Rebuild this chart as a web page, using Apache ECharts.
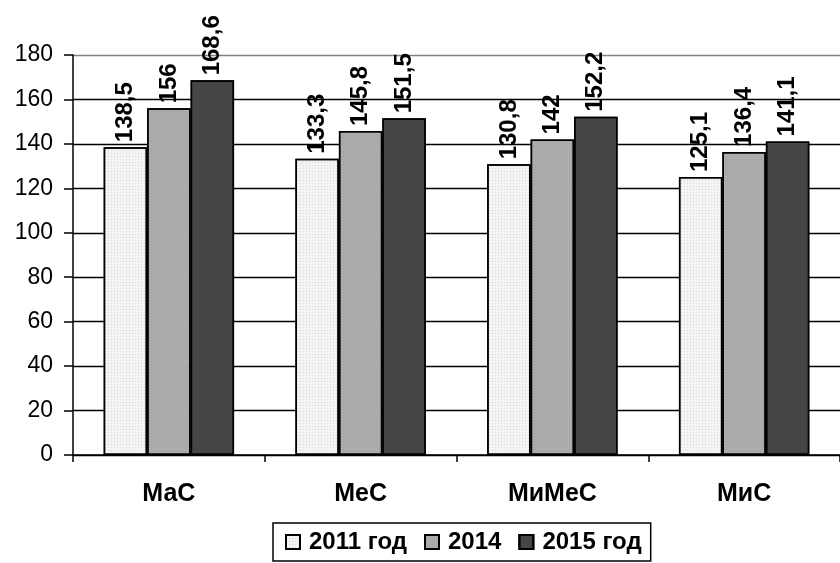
<!DOCTYPE html>
<html><head><meta charset="utf-8">
<script src="https://cdn.jsdelivr.net/npm/echarts@6/dist/echarts.min.js"></script>
<style>html,body{margin:0;padding:0;background:#fff}#c{width:840px;height:563px}</style>
</head><body><div id="c"></div>
<script>
const categories = ['МаС', 'МеС', 'МиМеС', 'МиС'];
const seriesNames = ['2011 год', '2014', '2015 год'];
const s2011 = [138.5, 133.3, 130.8, 125.1];
const s2014 = [156, 145.8, 142, 136.4];
const s2015 = [168.6, 151.5, 152.2, 141.1];
const yTicks = {min: 0, max: 180, interval: 20};

const fills = ['#f4f4f4', '#a8a8a8', '#484848'];
const decals = [
  {symbol: 'rect', symbolSize: 0.6, color: 'rgba(0,0,0,0.4)', dashArrayX: [1, 2], dashArrayY: [1, 2], rotation: 0},
  {symbol: 'rect', symbolSize: 0.7, color: 'rgba(255,255,255,0.4)', dashArrayX: [1, 1], dashArrayY: [1, 1], rotation: 0},
  {symbol: 'rect', symbolSize: 0.7, color: 'rgba(0,0,0,0.4)', dashArrayX: [1, 1], dashArrayY: [1, 1], rotation: 0}
];
const FONT = 'Liberation Sans, Arial';
const fmt = v => String(v.value).replace('.', ',');
const mk = (name, data, i) => ({
  name, type: 'bar', data,
  barGap: '0%', barCategoryGap: '32%',
  itemStyle: {color: fills[i], borderColor: '#000', borderWidth: 1.5, decal: decals[i]},
  label: {show: true, position: 'top', rotate: 90, align: 'left', verticalAlign: 'middle', distance: 5,
    formatter: fmt, fontFamily: FONT, fontWeight: 'bold', fontSize: 24, color: '#000'}
});
const splitColors = ['#000','#000','#000','#000','#000','#000','#000','#000','#000','#808080'];
const chart = echarts.init(document.getElementById('c'));
chart.setOption({
  animation: false,
  grid: {left: 73, right: 0, top: 55, bottom: 108},
  legend: {
    data: seriesNames, top: 523, left: 273,
    icon: 'rect', itemWidth: 14, itemHeight: 14, itemGap: 17,
    borderColor: '#000', borderWidth: 1.5, padding: [7, 9, 7, 12],
    textStyle: {fontFamily: FONT, fontWeight: 'bold', fontSize: 24, color: '#000', padding: [0, 0, 0, 4]}
  },
  xAxis: {
    type: 'category', data: categories,
    axisLine: {lineStyle: {color: '#000', width: 1.5}},
    axisTick: {show: true, length: 7, lineStyle: {color: '#000', width: 1.5}},
    axisLabel: {fontFamily: FONT, fontWeight: 'bold', fontSize: 25, color: '#000', margin: 27}
  },
  yAxis: {
    type: 'value', min: yTicks.min, max: yTicks.max, interval: yTicks.interval,
    axisLine: {show: true, lineStyle: {color: '#000', width: 1.5}},
    axisTick: {show: true, length: 9, lineStyle: {color: '#000', width: 1.5}},
    splitLine: {lineStyle: {color: splitColors, width: 1.3}},
    axisLabel: {fontFamily: FONT, fontSize: 23, color: '#000', margin: 20}
  },
  series: [mk(seriesNames[0], s2011, 0), mk(seriesNames[1], s2014, 1), mk(seriesNames[2], s2015, 2)]
});
</script></body></html>
